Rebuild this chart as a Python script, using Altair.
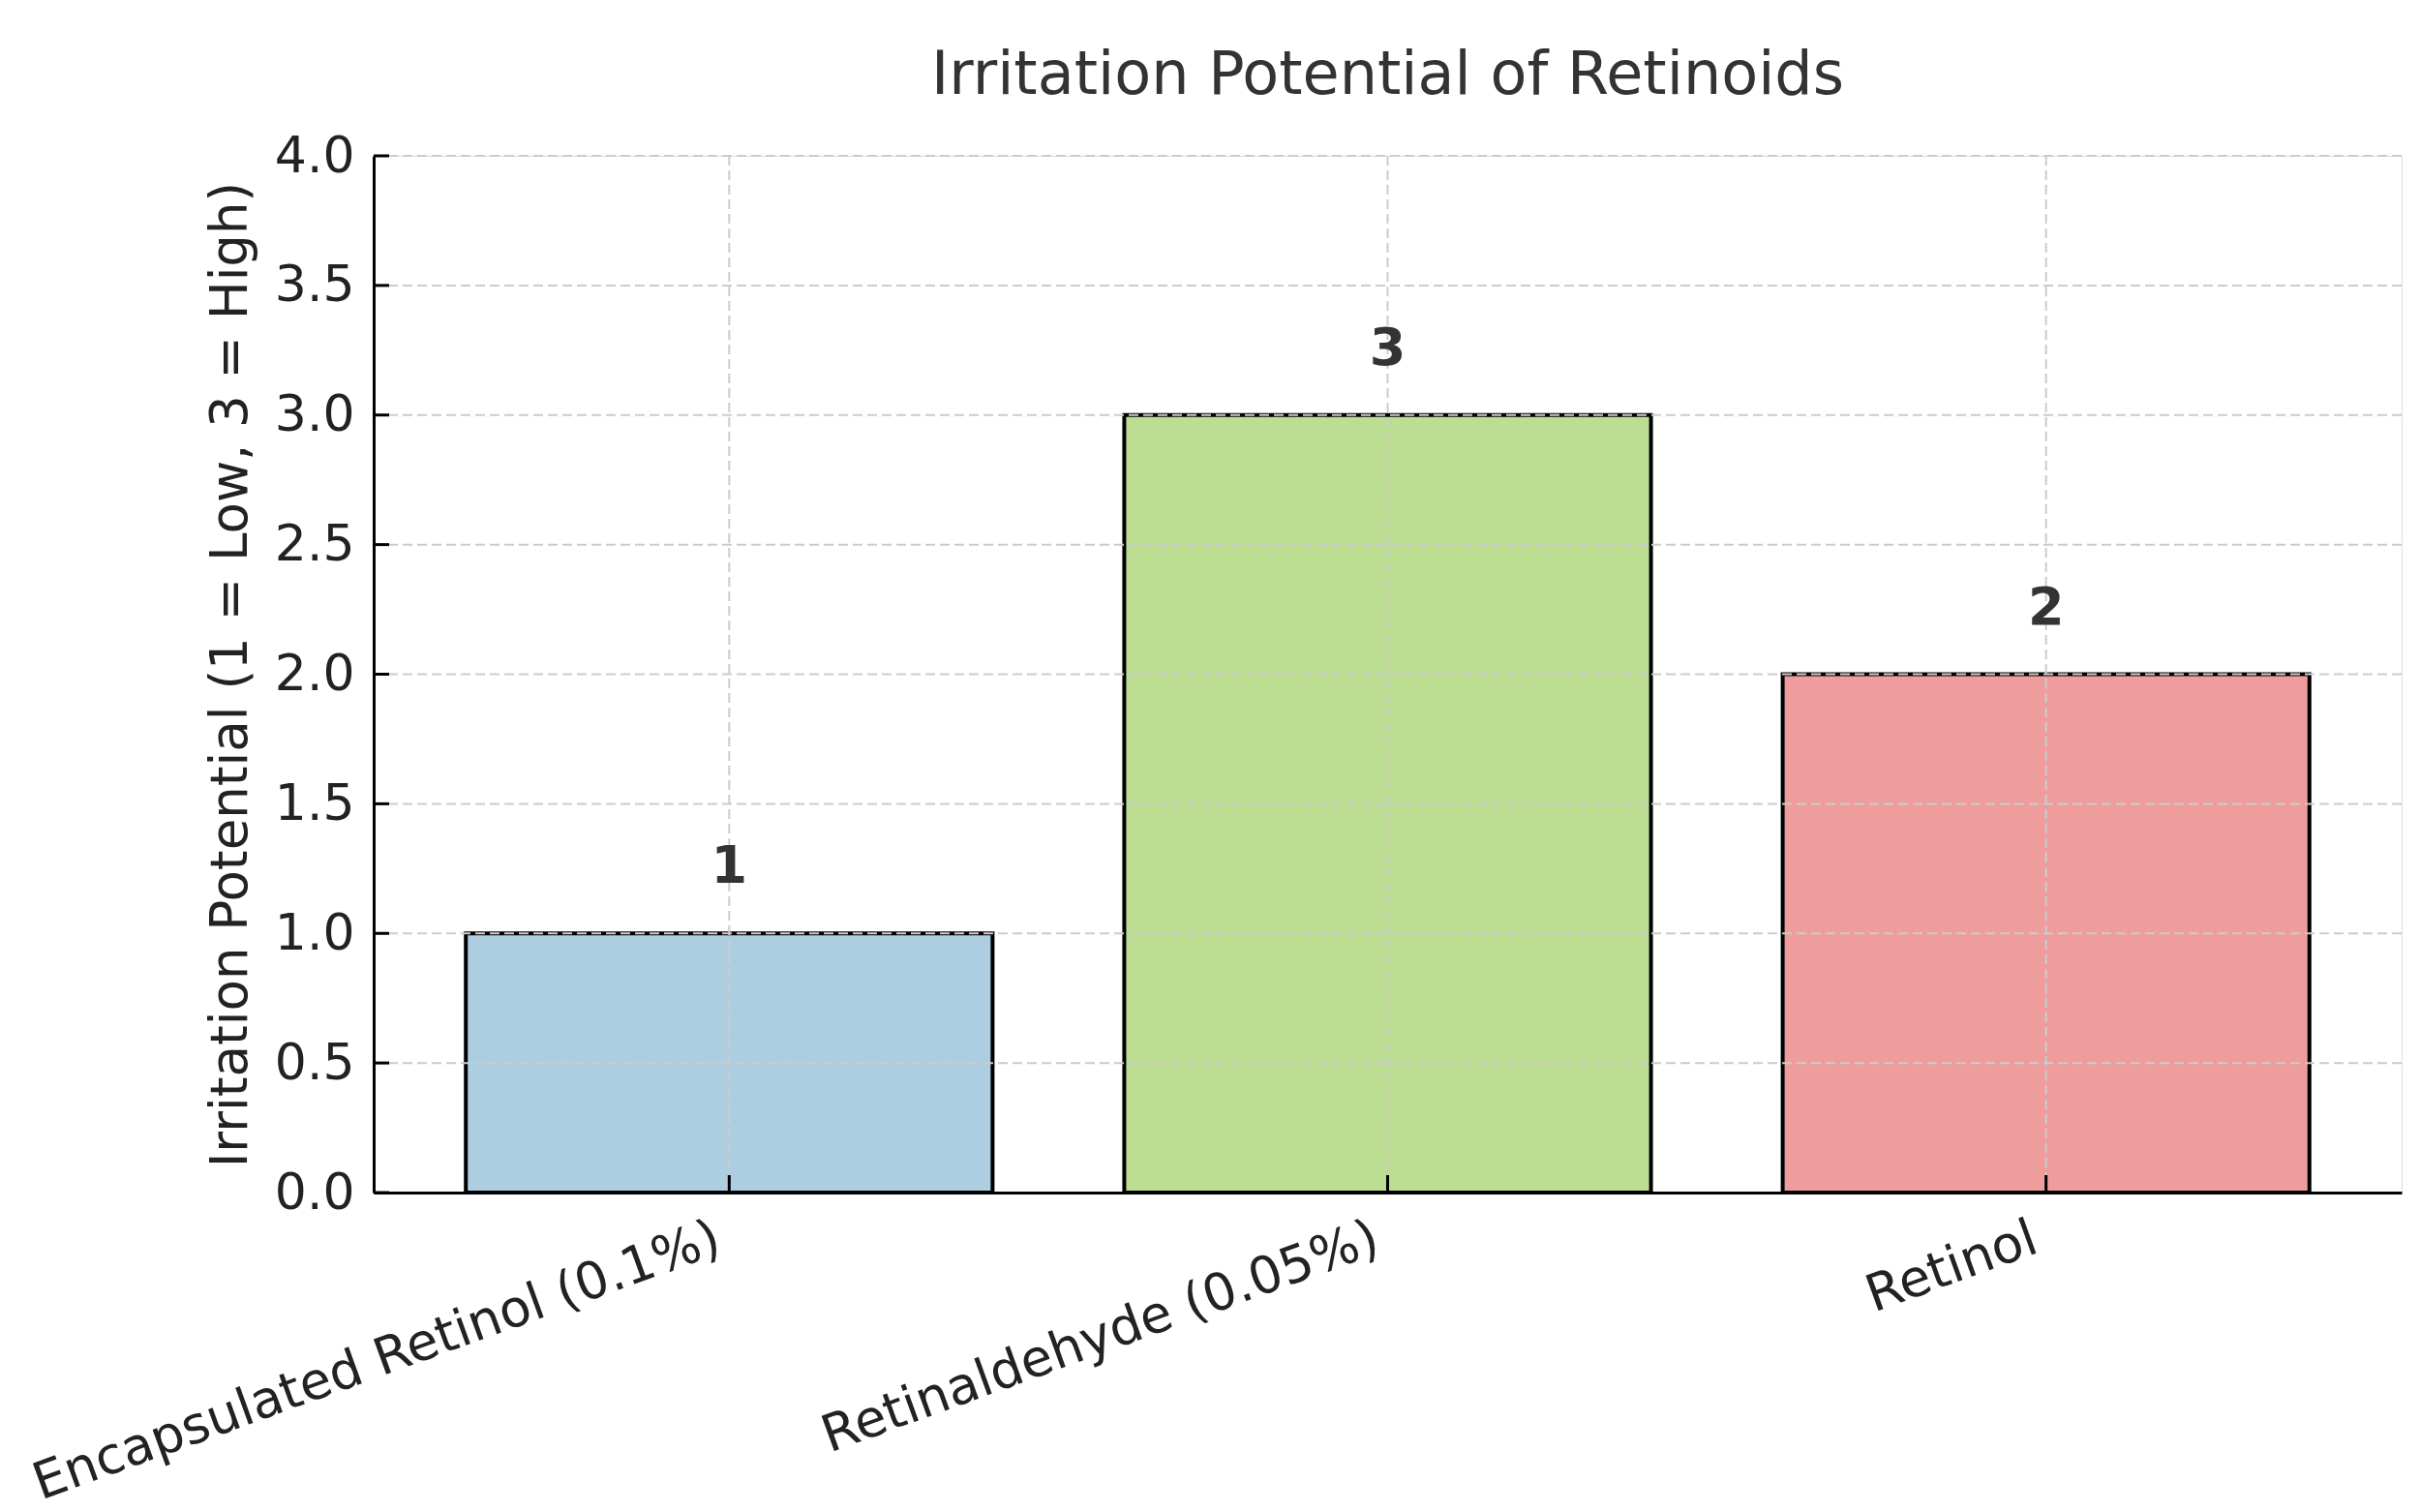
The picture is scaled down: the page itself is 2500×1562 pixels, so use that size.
import altair as alt
import pandas as pd

categories = ["Encapsulated Retinol (0.1%)", "Retinaldehyde (0.05%)", "Retinol"]
values = [1, 3, 2]
colors = ["#ADCDE1", "#BCDE92", "#EE9C9C"]
y_ticks = [0.0, 0.5, 1.0, 1.5, 2.0, 2.5, 3.0, 3.5, 4.0]

FONT = "DejaVu Sans"
W, H = 2095, 1071
GRID_COLOR = "#cccccc"
GRID_DASH = [10, 5]

df = pd.DataFrame({"name": categories, "value": values})
ticks_df = pd.DataFrame({"v": y_ticks})

x_scale = alt.Scale(domain=categories, paddingInner=0.2, paddingOuter=0.14)
y_scale = alt.Scale(domain=[0, 4], nice=False)

axis_common = dict(
    grid=False,
    ticks=False,
    domain=True,
    domainColor="black",
    domainWidth=3,
    zindex=1,
)

x_axis = alt.Axis(
    title=None,
    labelAngle=-20,
    labelAlign="right",
    labelBaseline="top",
    labelFont=FONT,
    labelFontSize=53,
    labelColor="#222222",
    labelPadding=21,
    labelOffset=-20,
    labelLimit=0,
    labelOverlap=False,
    labelBound=False,
    **axis_common,
)

y_axis = alt.Axis(
    title="Irritation Potential (1 = Low, 3 = High)",
    titleFont=FONT,
    titleFontSize=53,
    titleFontWeight="normal",
    titleColor="#222222",
    titleAngle=270,
    titleX=-132,
    titleY=H / 2,
    titleAlign="center",
    titleBaseline="alphabetic",
    values=y_ticks,
    format=".1f",
    labelFont=FONT,
    labelFontSize=52,
    labelColor="#222222",
    labelPadding=20,
    labelOverlap=False,
    labelBound=False,
    **axis_common,
)

base = alt.Chart(df)

bars = base.mark_bar(stroke="black", strokeWidth=4).encode(
    x=alt.X("name:N", sort=categories, scale=x_scale, axis=x_axis),
    y=alt.Y("value:Q", scale=y_scale, axis=y_axis),
    color=alt.Color("name:N", scale=alt.Scale(domain=categories, range=colors), legend=None),
)

# gridlines drawn over the bars, as in the reference
h_grid = alt.Chart(ticks_df).mark_rule(
    color=GRID_COLOR, strokeWidth=2, strokeDash=GRID_DASH
).encode(
    y=alt.Y("v:Q"),
    x=alt.value(0),
    x2=alt.value(W),
)

v_grid = base.mark_rule(
    color=GRID_COLOR, strokeWidth=2, strokeDash=GRID_DASH
).encode(
    x=alt.X("name:N", sort=categories),
    y=alt.value(0),
    y2=alt.value(H),
)

labels = base.mark_text(
    baseline="alphabetic",
    dy=-52,
    font=FONT,
    fontSize=54,
    fontWeight="bold",
    color="#333333",
).encode(
    x=alt.X("name:N", sort=categories),
    y=alt.Y("value:Q"),
    text=alt.Text("value:Q", format="d"),
)

# inward tick marks
y_tick_marks = alt.Chart(ticks_df).mark_rule(color="black", strokeWidth=3).encode(
    y=alt.Y("v:Q"),
    x=alt.value(0),
    x2=alt.value(16),
)

x_tick_marks = base.mark_rule(color="black", strokeWidth=3).encode(
    x=alt.X("name:N", sort=categories),
    y=alt.value(H),
    y2=alt.value(H - 18),
)

chart = alt.layer(bars, h_grid, v_grid, y_tick_marks, x_tick_marks, labels).properties(
    width=W,
    height=H,
    autosize=alt.AutoSizeParams(type="none"),
    padding={"left": 378, "top": 153, "right": 10, "bottom": 322},
    title=alt.TitleParams(
        "Irritation Potential of Retinoids",
        font=FONT,
        fontSize=62,
        fontWeight="normal",
        color="#333333",
        anchor="middle",
        frame="group",
        baseline="alphabetic",
        offset=-24,
    ),
).configure_view(stroke=None).configure(background="white")

chart.save("out.html", embed_options={"renderer": "svg", "actions": False})
